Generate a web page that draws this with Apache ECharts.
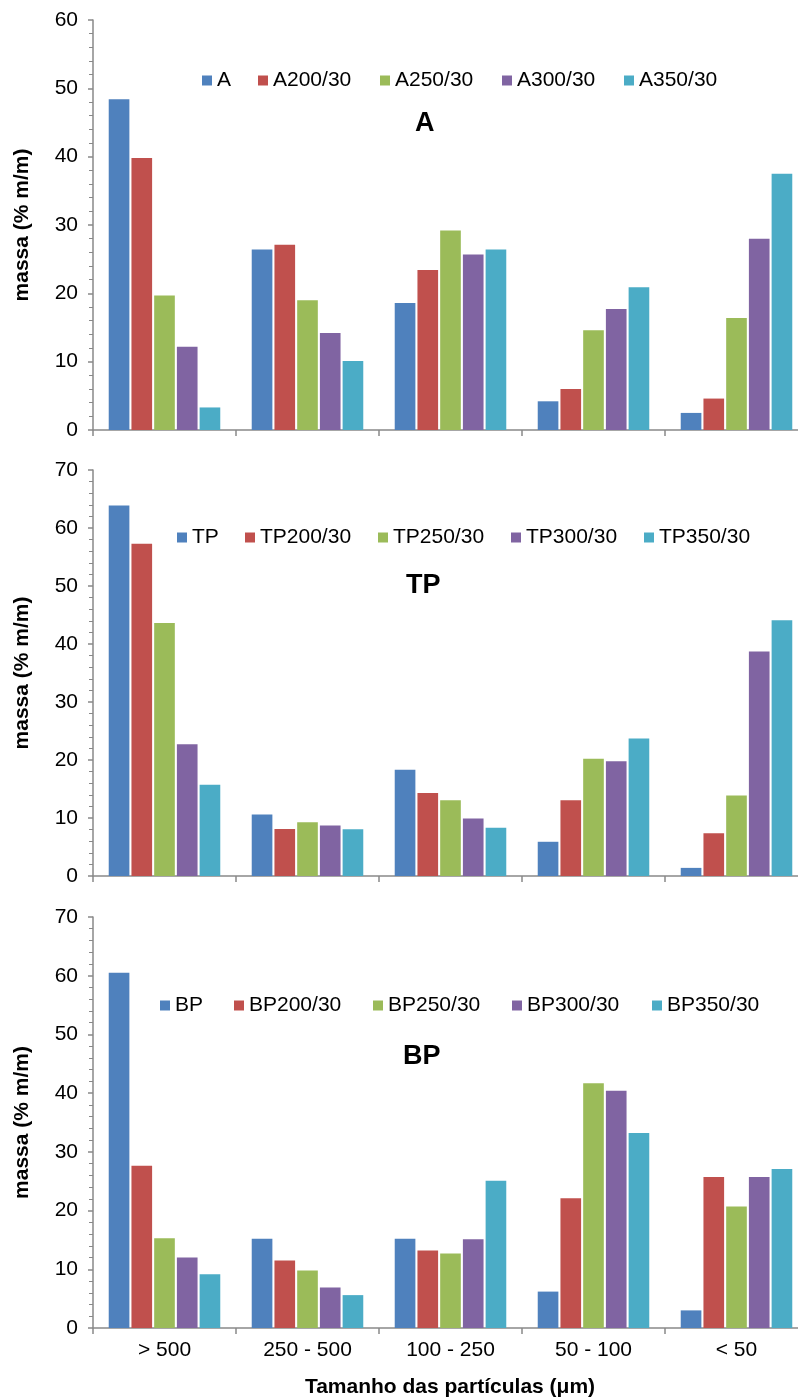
<!DOCTYPE html>
<html>
<head>
<meta charset="utf-8">
<script src="https://cdn.jsdelivr.net/npm/echarts@6/dist/echarts.min.js"></script>
<style>
html,body{margin:0;padding:0;background:#fff;}
#chart{width:798px;height:1397px;}
</style>
</head>
<body>
<div id="chart"></div>
<script>
// ---- data ----
const categories = ['> 500', '250 - 500', '100 - 250', '50 - 100', '< 50'];

const namesA  = ['A', 'A200/30', 'A250/30', 'A300/30', 'A350/30'];
const valsA   = [48.4, 26.4, 18.6, 4.2, 2.5];
const valsA200 = [39.8, 27.1, 23.4, 6.0, 4.6];
const valsA250 = [19.7, 19.0, 29.2, 14.6, 16.4];
const valsA300 = [12.2, 14.2, 25.7, 17.7, 28.0];
const valsA350 = [3.3, 10.1, 26.4, 20.9, 37.5];

const namesTP  = ['TP', 'TP200/30', 'TP250/30', 'TP300/30', 'TP350/30'];
const valsTP    = [63.9, 10.6, 18.3, 5.9, 1.4];
const valsTP200 = [57.3, 8.1, 14.3, 13.05, 7.35];
const valsTP250 = [43.6, 9.25, 13.05, 20.2, 13.9];
const valsTP300 = [22.7, 8.7, 9.9, 19.8, 38.7];
const valsTP350 = [15.75, 8.05, 8.3, 23.7, 44.1];

const namesBP  = ['BP', 'BP200/30', 'BP250/30', 'BP300/30', 'BP350/30'];
const valsBP    = [60.5, 15.2, 15.2, 6.2, 3.0];
const valsBP200 = [27.65, 11.5, 13.2, 22.1, 25.7];
const valsBP250 = [15.3, 9.8, 12.7, 41.7, 20.7];
const valsBP300 = [12.0, 6.9, 15.1, 40.4, 25.7];
const valsBP350 = [9.15, 5.6, 25.1, 33.2, 27.1];

const panelTitles = ['A', 'TP', 'BP'];
const yMaxes = [60, 70, 70];
const yLabel = 'massa (% m/m)';
const xLabel = 'Tamanho das partículas (μm)';

// ---- layout / style ----
const colors = ['#4F81BD', '#C0504D', '#9BBB59', '#8064A2', '#4BACC6'];
const FONT = "'Liberation Sans', Arial, sans-serif";
const FS = 21;
const grids = [
  {top: 20, height: 410},
  {top: 470, height: 406},
  {top: 917, height: 411}
];
const legendX = [
  [202, 258, 380, 502, 624],
  [177, 245, 378, 511, 644],
  [160, 234, 373, 512, 652]
];
const legendY = [70, 527, 995];
const titlePos = [[415, 110], [406, 572], [403, 1043]];

const panels = [
  {names: namesA, vals: [valsA, valsA200, valsA250, valsA300, valsA350]},
  {names: namesTP, vals: [valsTP, valsTP200, valsTP250, valsTP300, valsTP350]},
  {names: namesBP, vals: [valsBP, valsBP200, valsBP250, valsBP300, valsBP350]}
];

const axisGray = '#898989';
const option = {
  backgroundColor: '#fff',
  animation: false,
  grid: [], xAxis: [], yAxis: [], series: [], legend: [], title: []
};

panels.forEach((p, i) => {
  option.grid.push({left: 93, right: -10, top: grids[i].top, height: grids[i].height, containLabel: false, outerBoundsMode: 'none'});
  option.xAxis.push({
    type: 'category', gridIndex: i, data: categories,
    axisLine: {show: true, lineStyle: {color: axisGray, width: 1.5}},
    axisTick: {show: true, length: 6, lineStyle: {color: axisGray, width: 1.5}},
    axisLabel: {show: i === 2, color: '#000', fontSize: FS, fontFamily: FONT, margin: 12, interval: 0},
    splitLine: {show: false}
  });
  option.yAxis.push({
    type: 'value', gridIndex: i, min: 0, max: yMaxes[i], interval: 10,
    name: yLabel, nameLocation: 'middle', nameRotate: 90, nameGap: 60,
    nameTextStyle: {fontSize: FS, fontWeight: 'bold', fontFamily: FONT, color: '#000'},
    axisLine: {show: true, lineStyle: {color: axisGray, width: 1.5}},
    axisTick: {show: true, length: 5, lineStyle: {color: axisGray, width: 1.5}},
    minorTick: {show: true, splitNumber: 5, length: 4, lineStyle: {color: axisGray, width: 1}},
    axisLabel: {color: '#000', fontSize: FS, fontFamily: FONT, margin: 15},
    splitLine: {show: false}
  });
  p.names.forEach((n, k) => {
    option.series.push({
      type: 'bar', name: n, xAxisIndex: i, yAxisIndex: i, data: p.vals[k],
      barGap: '10%', barCategoryGap: '22%',
      itemStyle: {color: colors[k]}
    });
    option.legend.push({
      data: [n], left: legendX[i][k], top: legendY[i], padding: 0,
      itemWidth: 10, itemHeight: 10, icon: 'rect', selectedMode: false,
      textStyle: {fontSize: FS, fontFamily: FONT, color: '#000'}
    });
  });
  option.title.push({
    text: panelTitles[i], left: titlePos[i][0], top: titlePos[i][1], padding: 0,
    textStyle: {fontSize: 27, fontWeight: 'bold', fontFamily: FONT, color: '#000'}
  });
});
option.title.push({
  text: xLabel, left: 450, top: 1377, padding: 0, textAlign: 'center',
  textStyle: {fontSize: FS, fontWeight: 'bold', fontFamily: FONT, color: '#000'}
});

const chart = echarts.init(document.getElementById('chart'), null, {renderer: 'canvas'});
chart.setOption(option);
</script>
</body>
</html>
